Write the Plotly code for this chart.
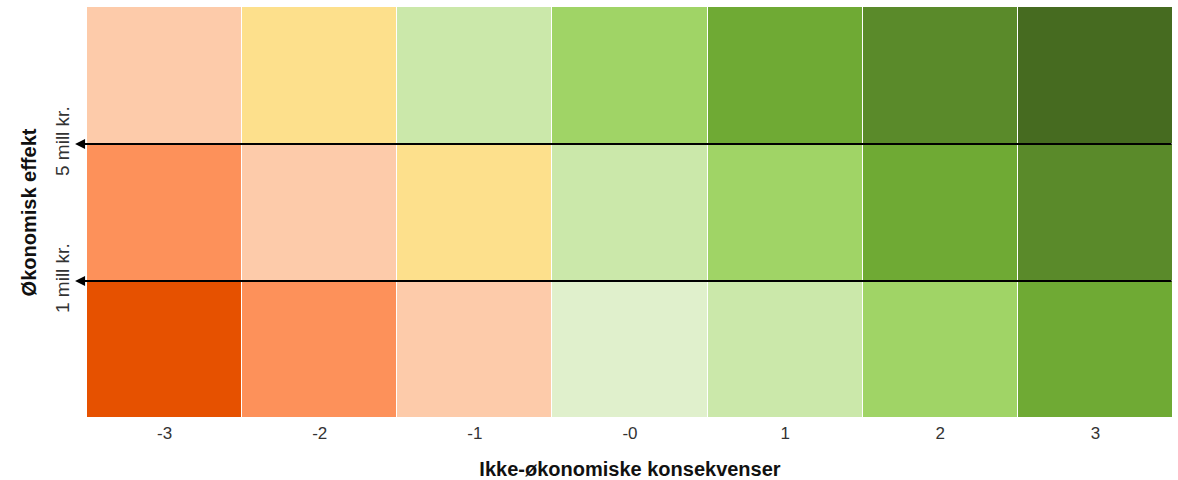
import plotly.graph_objects as go

# Data
x_labels = ["-3", "-2", "-1", "-0", "1", "2", "3"]
row_labels = ["lav", "middels", "høy"]  # bottom to top
palette = ["#E65100", "#FD915A", "#FDCBAA", "#FDE08C", "#E0F0CC",
           "#CBE8AA", "#A0D466", "#6FAA34", "#5A8A2A", "#466B20"]
row_bottom = [0, 1, 2, 4, 5, 6, 7]
row_middle = [1, 2, 3, 5, 6, 7, 8]
row_top = [2, 3, 5, 6, 7, 8, 9]
threshold_labels = ["1 mill kr.", "5 mill kr."]
threshold_pos = [0.5, 1.5]

n = len(palette)
colorscale = []
for i, c in enumerate(palette):
    colorscale.append([i / n, c])
    colorscale.append([(i + 1) / n, c])

z = [row_bottom, row_middle, row_top]

fig = go.Figure(go.Heatmap(
    z=z,
    x=list(range(len(x_labels))),
    y=list(range(len(row_labels))),
    zmin=-0.5, zmax=n - 0.5,
    colorscale=colorscale,
    showscale=False,
    xgap=1, ygap=1,
    hoverinfo="skip",
))

for ypos in threshold_pos:
    fig.add_annotation(
        x=-0.011, y=ypos, xref="x domain", yref="y",
        ax=1.0, ay=ypos, axref="x domain", ayref="y",
        showarrow=True, arrowhead=2, arrowsize=1, arrowwidth=2,
        arrowcolor="black", text="",
    )

fig.update_layout(
    width=1178, height=480,
    margin=dict(l=87, r=5, t=7, b=62, autoexpand=False),
    plot_bgcolor="white", paper_bgcolor="white",
    font=dict(family="Liberation Sans, Arial, sans-serif", size=16, color="#333333"),
)
fig.update_xaxes(
    tickvals=list(range(len(x_labels))), ticktext=x_labels,
    range=[-0.5, len(x_labels) - 0.5],
    showgrid=False, zeroline=False, ticks="",
    tickfont=dict(size=17),
    ticklabelstandoff=3,
    title=dict(text="<b>Ikke-økonomiske konsekvenser</b>",
               font=dict(size=20, color="#111111"), standoff=20),
)
fig.update_yaxes(
    tickvals=threshold_pos, ticktext=threshold_labels, tickangle=-90,
    range=[-0.5, len(row_labels) - 0.5],
    showgrid=False, zeroline=False, ticks="",
    tickfont=dict(size=19),
    ticklabelstandoff=13,
    title=dict(text="<b>Økonomisk effekt</b>",
               font=dict(size=20, color="#111111"), standoff=10),
)

fig.write_html("out.html", config={"displayModeBar": False},
               post_script="document.body.style.margin='0px';document.body.style.overflow='hidden';")
